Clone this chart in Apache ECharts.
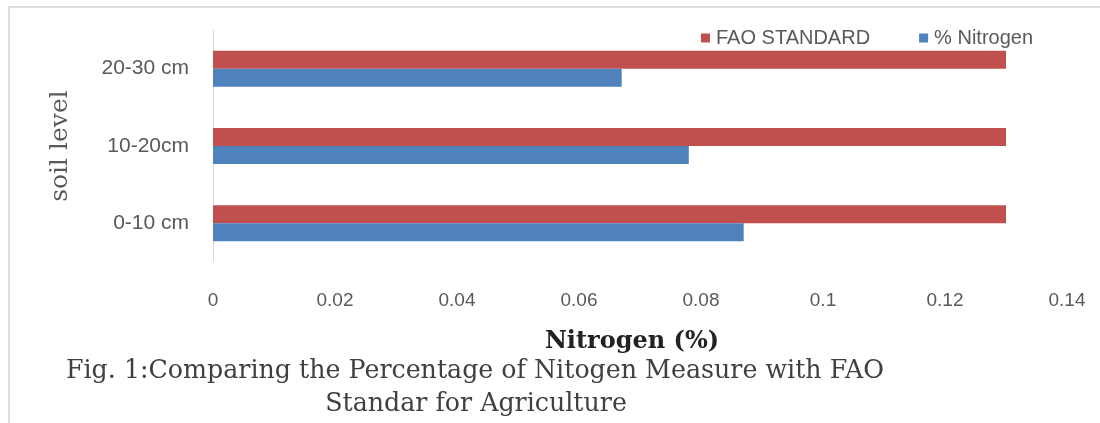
<!DOCTYPE html>
<html>
<head>
<meta charset="utf-8">
<script src="https://cdn.jsdelivr.net/npm/echarts@6/dist/echarts.min.js"></script>
<style>
html,body{margin:0;padding:0;background:#fff;}
#chart{width:1100px;height:423px;}
</style>
</head>
<body>
<div id="chart"></div>
<script>
const categories = ['0-10 cm', '10-20cm', '20-30 cm'];
const nitrogen = [0.087, 0.078, 0.067];
const faoStandard = [0.13, 0.13, 0.13];
const xTicks = [0, 0.02, 0.04, 0.06, 0.08, 0.1, 0.12, 0.14];
const seriesNames = ['FAO STANDARD', '% Nitrogen'];
const captionLines = ['Fig. 1:Comparing the Percentage of Nitogen Measure with FAO', 'Standar for Agriculture'];

const chart = echarts.init(document.getElementById('chart'));
const labelFont = '"Liberation Sans", "DejaVu Sans", sans-serif';
const serifFont = '"DejaVu Serif", "Liberation Serif", serif';
chart.setOption({
  animation: false,
  backgroundColor: '#ffffff',
  legend: {
    data: seriesNames,
    left: 696, top: 23,
    itemWidth: 9, itemHeight: 9, itemGap: 49,
    icon: 'rect',
    textStyle: {color: '#595959', fontSize: 20, fontFamily: labelFont, padding: [0, 0, 0, 1]}
  },
  grid: {left: 213, right: 33, top: 30, bottom: 161},
  xAxis: {
    type: 'value', min: 0, max: 0.14, interval: 0.02,
    axisLine: {show: false}, axisTick: {show: false}, splitLine: {show: false},
    axisLabel: {
      color: '#595959', fontSize: 19, fontFamily: labelFont, margin: 29,
      formatter: v => { const t = xTicks.find(x => Math.abs(x - v) < 1e-9); return t === undefined ? '' : String(t); }
    },
    name: 'Nitrogen (%)', nameLocation: 'middle', nameGap: 68,
    nameTextStyle: {color: '#222', fontSize: 24, fontWeight: 'bold', fontFamily: serifFont, padding: [0, 16, 0, 0]}
  },
  yAxis: {
    type: 'category', data: categories,
    axisLine: {show: true, lineStyle: {color: '#d9d9d9', width: 1}},
    axisTick: {show: false},
    axisLabel: {color: '#595959', fontSize: 21, fontFamily: labelFont, margin: 24},
    name: 'soil level', nameLocation: 'middle', nameGap: 140, nameRotate: 90,
    nameTextStyle: {color: '#595959', fontSize: 25, fontFamily: serifFont}
  },
  series: [
    {name: seriesNames[0], type: 'bar', data: faoStandard, barWidth: 18, barGap: '0%', itemStyle: {color: '#c0504d'}},
    {name: seriesNames[1], type: 'bar', data: nitrogen, barWidth: 18, barGap: '0%', itemStyle: {color: '#4f81bd'}}
  ],
  graphic: [
    {type: 'rect', shape: {x: 8, y: 6, width: 1092, height: 2}, style: {fill: '#dcdcdc'}, silent: true},
    {type: 'rect', shape: {x: 8, y: 6, width: 2, height: 417}, style: {fill: '#dcdcdc'}, silent: true},
    {type: 'text', x: 475, y: 371, style: {text: captionLines[0], fill: '#404040', font: '25.3px "DejaVu Serif", serif', align: 'center', verticalAlign: 'middle'}},
    {type: 'text', x: 476, y: 404, style: {text: captionLines[1], fill: '#404040', font: '25.3px "DejaVu Serif", serif', align: 'center', verticalAlign: 'middle'}}
  ]
});
</script>
</body>
</html>
